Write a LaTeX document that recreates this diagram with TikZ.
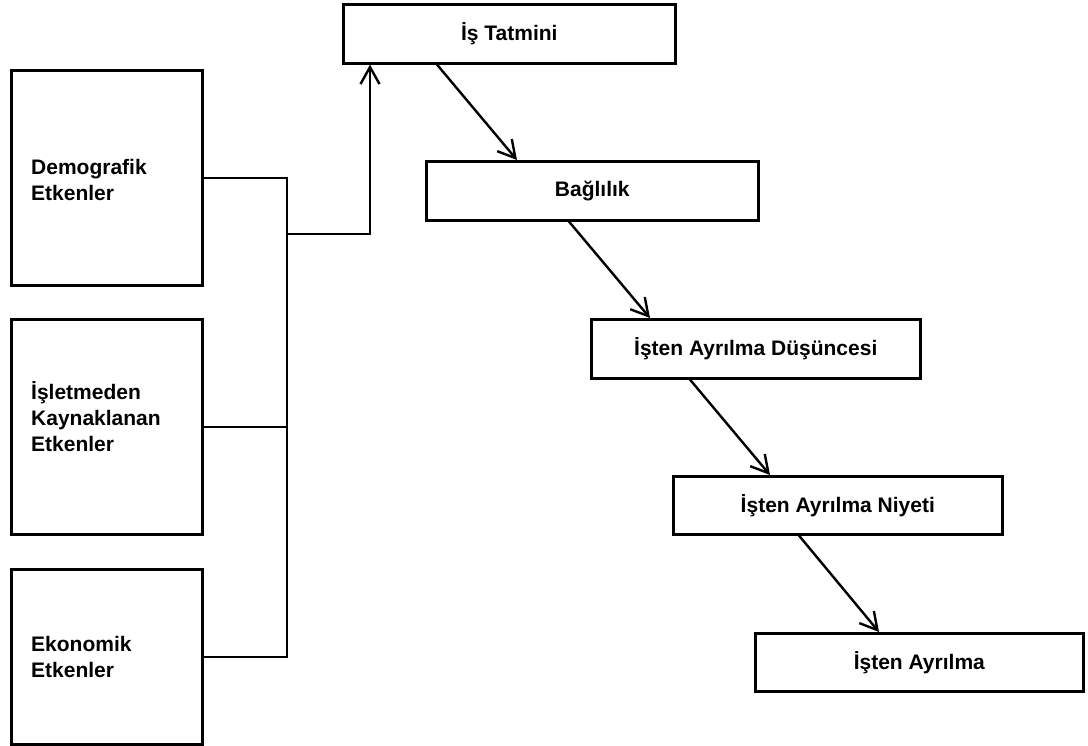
\documentclass[tikz,border=0pt]{standalone}
\usepackage{fontspec}
\setmainfont{Liberation Sans}
\usetikzlibrary{arrows.meta}
\begin{document}
\begin{tikzpicture}[x=1pt,y=-1pt,
  box/.style={draw=black,line width=2.6pt,rectangle,inner sep=0pt,anchor=north west},
  factorbox/.style={box,minimum width=191pt},
  stagebox/.style={box,minimum height=59pt,font=\fontsize{21}{26}\selectfont\bfseries},
  lbl/.style={anchor=west,align=left,inner sep=0pt,font=\fontsize{21}{26}\selectfont\bfseries},
  link/.style={line width=2.4pt,line join=miter},
  flow/.style={link,-{Straight Barb[length=17pt,width=19pt,line width=2.4pt]}}]
\useasboundingbox (0,0) rectangle (1088,746);

% factor boxes on the left
\node[factorbox,minimum height=215pt] (demo) at (10,69) {};
\node[factorbox,minimum height=215pt] (isl) at (10,318) {};
\node[factorbox,minimum height=175pt] (eko) at (10,568) {};
\node[lbl] (demoT) at ([xshift=21pt,yshift=-2pt]demo.west) {Demografik\\Etkenler};
\node[lbl] (islT) at ([xshift=21pt,yshift=10pt]isl.west) {İşletmeden\\Kaynaklanan\\Etkenler};
\node[lbl] (ekoT) at ([xshift=21pt]eko.west) {Ekonomik\\Etkenler};

% stages of the process
\node[stagebox,minimum width=332pt] (tatmin) at (342,3) {İş Tatmini};
\node[stagebox,minimum width=332pt] (bag) at (425,160) {Bağlılık};
\node[stagebox,minimum width=329pt] (dus) at (590,318) {İşten Ayrılma Düşüncesi};
\node[stagebox,minimum width=329pt,minimum height=58pt] (niy) at (672,475) {İşten Ayrılma Niyeti};
\node[stagebox,minimum width=328pt,minimum height=58pt] (ayr) at (754,632) {İşten Ayrılma};

% collecting bus from the factors
\coordinate (busX) at (287,0);
\coordinate (busTop) at (demo.east -| busX);
\coordinate (busBot) at (eko.east -| busX);
\coordinate (busOut) at (287,234);
\coordinate (riser) at (370,234);
\draw[link] (demo.east) -- (busTop) -- (busBot) -- (eko.east);
\draw[link] (isl.east) -- (isl.east -| busX);
\draw[flow] (busOut) -- (riser) -- (riser |- tatmin.south);

% chain of stages
\draw[flow] ([xshift=95pt]tatmin.south west) -- ([xshift=92pt]bag.north west);
\draw[flow] ([xshift=144pt]bag.south west) -- ([xshift=60pt]dus.north west);
\draw[flow] ([xshift=100pt]dus.south west) -- ([xshift=98pt]niy.north west);
\draw[flow] ([xshift=127pt]niy.south west) -- ([xshift=125pt]ayr.north west);
\end{tikzpicture}
\end{document}
